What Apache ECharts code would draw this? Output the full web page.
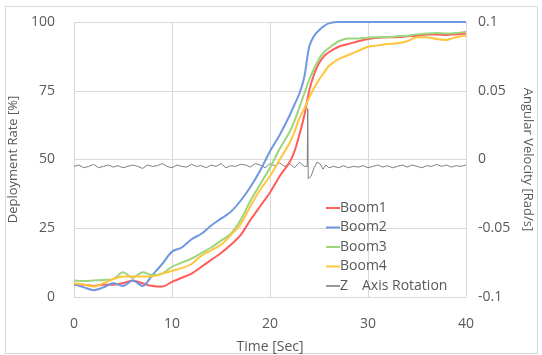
<!DOCTYPE html>
<html>
<head>
<meta charset="utf-8">
<script src="https://cdn.jsdelivr.net/npm/echarts@6/dist/echarts.min.js"></script>
<style>
  html, body { margin: 0; padding: 0; background: #fff; }
  #chart { width: 542px; height: 355px; }
</style>
</head>
<body>
<div id="chart"></div>
<script>
// time axis for the boom curves (finer around the fast rise)
const boomTime = [0, 1, 2, 3, 4, 5, 6, 7, 8, 9, 10, 11, 12, 13, 14, 15, 16, 17, 18, 19, 20, 21, 22,
  22.5, 23, 23.5, 24, 24.5, 25, 25.5, 26, 27, 28, 29, 30, 31, 32, 33, 34, 35, 36, 37, 38, 39, 40];

const boom1 = [4.5, 4.5, 4, 4.5, 4.5, 5, 6, 5, 4, 3.8, 5.5, 7, 8.5, 11, 13.5, 16, 19, 22.5, 28, 33, 38, 44, 49,
  53, 59, 66, 75, 81, 85, 87.5, 89, 91, 92, 93, 93.8, 94.3, 94.5, 94.5, 94.8, 95, 95.5, 95.5, 95.3, 95.5, 95.8];
const boom2 = [4.7, 3.5, 2.5, 3.5, 5, 4, 6, 4, 8, 12, 16.5, 18, 21, 23, 26, 28.5, 31, 35, 40, 46, 53, 59, 66,
  70, 74, 80, 91, 95, 97, 98.5, 99.5, 100, 100, 100, 100, 100, 100, 100, 100, 100, 100, 100, 100, 100, 100];
const boom3 = [6, 5.8, 6, 6.2, 6.5, 9, 7, 9, 8, 8.5, 11, 12.5, 14, 16, 18, 20.5, 23, 28, 35, 41, 47, 54, 60,
  64, 69, 74, 79, 83, 86.5, 89, 90.5, 93, 94, 94, 94.3, 94.5, 94.5, 94.8, 95, 95.5, 95.8, 96, 95.8, 96, 96.5];
const boom4 = [5, 4.5, 3.8, 5, 6.5, 7.5, 7.5, 7.5, 7.5, 8.5, 9.5, 10.5, 12, 15, 17, 19, 22.5, 26.5, 33, 39, 44, 50, 56,
  60, 65, 68.5, 72.5, 76, 79, 81.5, 84, 86.5, 88, 89.5, 91, 91.5, 92, 92.3, 93, 94.5, 94.5, 93.8, 93.5, 94.5, 95];

// Z axis rotation (rad/s)
const rotTime = [0, 0.5, 1, 1.5, 2, 2.5, 3, 3.5, 4, 4.5, 5, 5.5, 6, 6.5, 7, 7.5, 8, 8.5, 9, 9.5, 10, 10.5, 11, 11.5,
  12, 12.5, 13, 13.5, 14, 14.5, 15, 15.5, 16, 16.5, 17, 17.5, 18, 18.5, 19, 19.5, 20, 20.5, 21, 21.5, 22, 22.5, 23, 23.5,
  23.8, 23.85, 23.9, 24.2, 24.5, 24.8, 25.1, 25.4, 25.7, 26,
  26.5, 27, 27.5, 28, 28.5, 29, 29.5, 30, 30.5, 31, 31.5, 32, 32.5, 33, 33.5, 34, 34.5, 35, 35.5, 36, 36.5, 37, 37.5,
  38, 38.5, 39, 39.5, 40];
const rotVal = [-0.005, -0.004, -0.006, -0.005, -0.0035, -0.006, -0.005, -0.004, -0.0055, -0.0045, -0.006, -0.005,
  -0.004, -0.005, -0.0065, -0.004, -0.005, -0.0045, -0.003, -0.005, -0.006, -0.004, -0.005, -0.0055,
  -0.0035, -0.005, -0.0045, -0.006, -0.004, -0.005, -0.003, -0.006, -0.0045, -0.005, -0.0035, -0.004,
  -0.0055, -0.003, -0.004, -0.006, -0.003, -0.0045, -0.0025, -0.005, -0.003, -0.006, -0.002, -0.005,
  -0.005, 0.037, -0.014, -0.012, -0.006, -0.002, -0.003, -0.007, -0.004, -0.006,
  -0.005, -0.006, -0.0045, -0.006, -0.005, -0.0055, -0.0045, -0.006, -0.005, -0.004, -0.0055, -0.0045, -0.006,
  -0.005, -0.004, -0.0055, -0.004, -0.005, -0.006, -0.0045, -0.005, -0.0035, -0.005, -0.004, -0.0055, -0.0045,
  -0.005, -0.004];

const leftTicks = [0, 25, 50, 75, 100];
const rightTicks = ['-0.1', '-0.05', '0', '0.05', '0.1'];

const textColor = '#595959';
const gridColor = '#d9d9d9';
const font = 'Open Sans';

const pairs = (xs, ys) => xs.map((x, i) => [x, ys[i]]);

const boomLine = (name, values, color) => ({
  name,
  type: 'line',
  data: pairs(boomTime, values),
  yAxisIndex: 0,
  symbol: 'none',
  smooth: 0.3,
  lineStyle: { color, width: 2 },
  itemStyle: { color },
});

const chart = echarts.init(document.getElementById('chart'), null, { renderer: 'canvas' });
chart.setOption({
  animation: false,
  backgroundColor: '#fff',
  textStyle: { fontFamily: font, color: textColor },
  graphic: [{
    type: 'rect',
    shape: { x: 5.5, y: 6.5, width: 532, height: 347 },
    style: { fill: 'none', stroke: gridColor, lineWidth: 1 },
    silent: true,
  }],
  grid: { left: 74, right: 76, top: 22, bottom: 58, outerBoundsMode: 'none', containLabel: false },
  legend: {
    orient: 'vertical',
    left: 321,
    top: 196,
    itemWidth: 14,
    itemHeight: 2,
    itemGap: 5.5,
    icon: 'rect',
    textStyle: { fontFamily: font, fontSize: 14, color: textColor, padding: [0, 0, 0, -5] },
    data: ['Boom1', 'Boom2', 'Boom3', 'Boom4', 'Z\u3000Axis Rotation'],
  },
  xAxis: {
    type: 'value',
    min: 0,
    max: 40,
    interval: 10,
    name: 'Time [Sec]',
    nameLocation: 'middle',
    nameGap: 43,
    nameTextStyle: { fontFamily: font, fontSize: 14, color: textColor },
    axisLine: { show: true, lineStyle: { color: gridColor } },
    axisTick: { show: false },
    axisLabel: { fontFamily: font, fontSize: 14, color: textColor, margin: 20 },
    splitLine: { show: true, lineStyle: { color: gridColor } },
  },
  yAxis: [{
    type: 'value',
    min: leftTicks[0],
    max: leftTicks[leftTicks.length - 1],
    interval: 25,
    name: 'Deployment Rate [%]',
    nameLocation: 'middle',
    nameGap: 48,
    nameTextStyle: { fontFamily: font, fontSize: 13, color: textColor },
    axisLine: { show: false },
    axisTick: { show: false },
    axisLabel: { fontFamily: font, fontSize: 14, color: textColor, margin: 19 },
    splitLine: { show: true, lineStyle: { color: gridColor } },
  }, {
    type: 'value',
    min: -0.1,
    max: 0.1,
    interval: 0.05,
    position: 'right',
    name: 'Angular Velocity [Rad/s]',
    nameLocation: 'middle',
    nameGap: 55,
    nameRotate: -90,
    nameTextStyle: { fontFamily: font, fontSize: 13, color: textColor },
    axisLine: { show: false },
    axisTick: { show: false },
    axisLabel: {
      fontFamily: font, fontSize: 14, color: textColor, margin: 12,
      formatter: (v) => rightTicks[Math.round((v + 0.1) / 0.05)],
    },
    splitLine: { show: false },
  }],
  series: [
    boomLine('Boom1', boom1, '#ff5c5c'),
    boomLine('Boom2', boom2, '#6f98e2'),
    boomLine('Boom3', boom3, '#9cd67c'),
    boomLine('Boom4', boom4, '#ffc53d'),
    {
      name: 'Z\u3000Axis Rotation',
      type: 'line',
      data: pairs(rotTime, rotVal),
      yAxisIndex: 1,
      symbol: 'none',
      lineStyle: { color: '#7f7f7f', width: 1 },
      itemStyle: { color: '#9a9a9a' },
      z: 1,
    },
  ],
});
</script>
</body>
</html>
